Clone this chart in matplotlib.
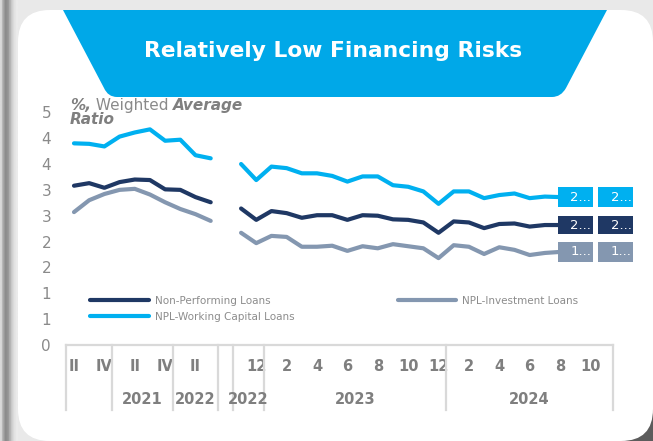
import numpy as np
import matplotlib
matplotlib.use("Agg")
import matplotlib.pyplot as plt
from matplotlib.path import Path
from matplotlib.patches import PathPatch, FancyBboxPatch, Rectangle
from matplotlib.transforms import blended_transform_factory

nan = np.nan

# Data (weighted average ratio, %)
# idx 0-9: Q2 2020 .. Q3 2022 (quarterly), idx 10: gap, idx 11-35: Nov 2022 .. Nov 2024 (monthly)
npl = [3.08, 3.13, 3.04, 3.15, 3.20, 3.19, 3.01, 3.00, 2.86, 2.76,
       nan,
       2.64, 2.42, 2.59, 2.55, 2.46, 2.51, 2.51, 2.42, 2.51, 2.50, 2.43, 2.42, 2.37, 2.17,
       2.39, 2.37, 2.26, 2.34, 2.35, 2.29, 2.32, 2.32, nan, nan, nan]
inv = [2.57, 2.80, 2.92, 3.00, 3.02, 2.91, 2.76, 2.63, 2.53, 2.40,
       nan,
       2.17, 1.97, 2.11, 2.09, 1.90, 1.90, 1.92, 1.82, 1.91, 1.87, 1.95, 1.91, 1.87, 1.68,
       1.93, 1.90, 1.76, 1.89, 1.84, 1.74, 1.78, 1.80, nan, nan, nan]
wc = [3.90, 3.89, 3.84, 4.03, 4.11, 4.17, 3.95, 3.97, 3.67, 3.61,
      nan,
      3.50, 3.19, 3.45, 3.42, 3.32, 3.32, 3.27, 3.16, 3.26, 3.26, 3.09, 3.06, 2.97, 2.73,
      2.97, 2.97, 2.84, 2.90, 2.93, 2.84, 2.87, 2.86, nan, nan, nan]

period_labels = ["II", "", "IV", "", "II", "", "IV", "", "II", "",
                 "",
                 "", "12",
                 "", "2", "", "4", "", "6", "", "8", "", "10", "", "12",
                 "", "2", "", "4", "", "6", "", "8", "", "10", ""]
# (year label, number of categories)
year_groups = [("", 3), ("2021", 4), ("2022", 3), ("", 1), ("2022", 2), ("2023", 12), ("2024", 11)]

ytick_vals = [0, 0.5, 1, 1.5, 2, 2.5, 3, 3.5, 4, 4.5]
ytick_text = ["0", "1", "1", "2", "2", "3", "3", "4", "4", "5"]

series_names = ["Non-Performing Loans", "NPL-Working Capital Loans", "NPL-Investment Loans"]
end_labels = {"npl": ["2...", "2..."], "wc": ["2...", "2..."], "inv": ["1...", "1..."]}

c_navy = "#1F3864"
c_blue = "#00B0F0"
c_gray = "#8497B0"
c_banner = "#00A8E8"
c_text = "#7F7F7F"

W, H = 653, 441
fig = plt.figure(figsize=(W / 100, H / 100), dpi=100)
fig.patch.set_facecolor("#E9E9E9")

# background / card decorations in pixel coordinates
bg = fig.add_axes([0, 0, 1, 1], zorder=0)
bg.set_xlim(0, W)
bg.set_ylim(H, 0)
bg.axis("off")
grad = np.array([[0.85, 0.66, 0.55, 0.58, 0.70, 0.82, 0.89, 0.92]])
bg.imshow(grad, cmap="gray", vmin=0, vmax=1, extent=(0, 18, H, 0), aspect="auto")
bg.add_patch(Rectangle((600, 395), 60, 60, color="#5C5C5C", lw=0))
rad = 32
bg.add_patch(FancyBboxPatch((18 + rad, 10 + rad), 653 - 18 - 2 * rad, 441 - 10 - 2 * rad,
                            boxstyle="round,pad=%d" % rad, fc="white", ec="none"))

# title banner (trapezoid with rounded bottom corners)
verts = [(63, 10), (607, 10), (566, 88), (561, 97), (552, 97), (117, 97), (108, 97), (104, 88), (63, 10)]
codes = [Path.MOVETO, Path.LINETO, Path.LINETO, Path.CURVE3, Path.CURVE3,
         Path.LINETO, Path.CURVE3, Path.CURVE3, Path.CLOSEPOLY]
bg.add_patch(PathPatch(Path(verts, codes), fc=c_banner, ec="none"))
bg.text(333, 51, "Relatively Low Financing Risks", color="white", fontsize=15.7,
        fontweight="bold", ha="center", va="center")

# main chart
ax = fig.add_axes([66.4 / W, 1 - 345 / H, (613.2 - 66.4) / W, (345 - 112.3) / H], zorder=1)
ax.patch.set_alpha(0)
x = np.arange(len(npl))
lw = 3.0
ax.plot(x, npl, color=c_navy, lw=lw, solid_joinstyle="round", solid_capstyle="round", label=series_names[0])
ax.plot(x, wc, color=c_blue, lw=lw, solid_joinstyle="round", solid_capstyle="round", label=series_names[1])
ax.plot(x, inv, color=c_gray, lw=lw, solid_joinstyle="round", solid_capstyle="round", label=series_names[2])

ax.set_xlim(-0.5, len(npl) - 0.5)
ax.set_ylim(0, 4.5)
for s in ax.spines.values():
    s.set_visible(False)

ax.set_yticks(ytick_vals, labels=ytick_text)
ax.tick_params(axis="y", length=0, pad=11, labelsize=11, labelcolor="#8A8A8A")
ax.set_xticks(x, labels=period_labels)
ax.tick_params(axis="x", length=0, pad=10, labelsize=10.5, labelcolor=c_text)
for t in ax.get_xticklabels():
    t.set_fontweight("bold")

# category table lines + year labels
lc = "#D9D9D9"
tr = blended_transform_factory(ax.transData, ax.transAxes)
ax.axhline(0, color=lc, lw=1.6, clip_on=False)
depth = -65 / (345 - 112.3)
start = -0.5
ax.axvline(start, ymin=depth, ymax=0, color=lc, lw=1.6, clip_on=False)
for name, n in year_groups:
    end = start + n
    ax.axvline(end, ymin=depth, ymax=0, color=lc, lw=1.6, clip_on=False)
    ax.text((start + end) / 2, -54 / (345 - 112.3), name, transform=tr, ha="center", va="center",
            fontsize=10.5, fontweight="bold", color=c_text)
    start = end

# end-of-series data label boxes
last = max(i for i, v in enumerate(npl) if not np.isnan(v))
for key, vals, col, h in [("wc", wc, c_blue, 0.38), ("npl", npl, c_navy, 0.34), ("inv", inv, c_gray, 0.40)]:
    yv = vals[last]
    for k, (dx, txt) in enumerate(zip([-0.14, 2.5], end_labels[key])):
        ax.add_patch(Rectangle((last + dx, yv - h / 2), 2.3, h, fc=col, ec="none", clip_on=False, zorder=5))
        ax.text(last + dx + 2.2, yv, txt, color="white", fontsize=9.5, ha="right", va="center",
                zorder=6, clip_on=False)

# axis title
t1 = ax.text(70 / W, 1 - 110 / H, "%,", transform=fig.transFigure, fontsize=11, color=c_text,
             fontweight="bold", fontstyle="italic", va="baseline")
t2 = ax.annotate(" Weighted ", xy=(1, 0), xycoords=t1, fontsize=11, color="#8A8A8A", va="bottom")
ax.annotate("Average", xy=(1, 0), xycoords=t2, fontsize=11, color=c_text,
            fontweight="bold", fontstyle="italic", va="bottom")
ax.text(70 / W, 1 - 124 / H, "Ratio", transform=fig.transFigure, fontsize=11, color=c_text,
        fontweight="bold", fontstyle="italic", va="baseline")

# legend
h_, l_ = ax.get_legend_handles_labels()
fig.legend(h_, l_, ncol=2, loc="upper left", bbox_to_anchor=(90.4 / W, 1 - 296 / H),
           frameon=False, fontsize=7.5, labelcolor="#8C8C8C", handlelength=5.6,
           handletextpad=0.6, columnspacing=9.9, labelspacing=0.55, borderpad=0, borderaxespad=0)

fig.savefig("out.png", dpi=100, facecolor=fig.get_facecolor())
